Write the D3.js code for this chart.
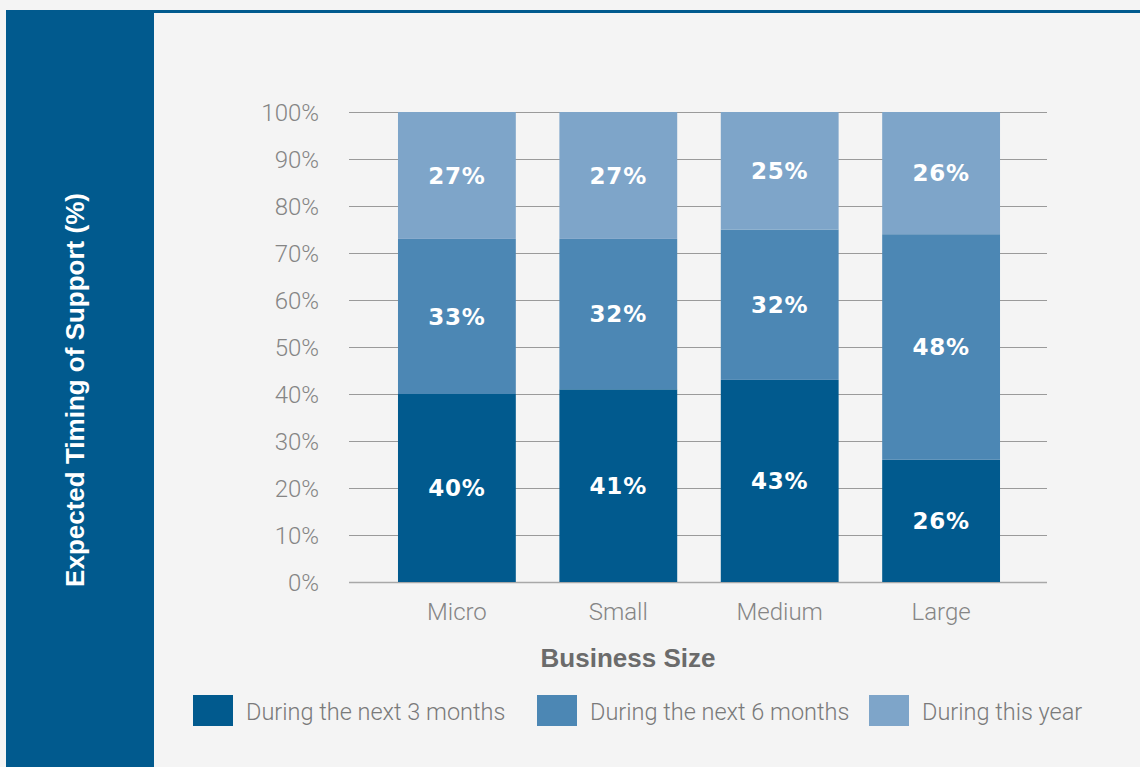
<!DOCTYPE html>
<html><head><meta charset="utf-8">
<script src="https://cdn.jsdelivr.net/npm/d3@7"></script>
<style>html,body{margin:0;padding:0;background:#f3f3f3;}svg{display:block;}</style>
</head><body>
<svg id="chart" width="1140" height="767"></svg>
<script>
const categories = ["Micro", "Small", "Medium", "Large"];
const seriesNames = ["During the next 3 months", "During the next 6 months", "During this year"];
const next3Months = [40, 41, 43, 26];
const next6Months = [33, 32, 32, 48];
const thisYear = [27, 27, 25, 26];
const yTicks = [0, 10, 20, 30, 40, 50, 60, 70, 80, 90, 100];
const colors = ["#015a8e", "#4c87b4", "#7ea5c9"];

const svg = d3.select("#chart");
const W = 1140, H = 767;
svg.append("rect").attr("width", W).attr("height", H).attr("fill", "#f4f4f4");
// left panel + top rule
svg.append("rect").attr("x", 6).attr("y", 10).attr("width", 148).attr("height", H - 10).attr("fill", "#015a8e");
svg.append("rect").attr("x", 154).attr("y", 10).attr("width", W - 154).attr("height", 3).attr("fill", "#015a8e");

const x = d3.scaleBand().domain(categories).range([377, 1021]).paddingInner(0.27).paddingOuter(0.13);
const y = d3.scaleLinear().domain([0, 100]).range([582, 112]);

const light = "Roboto, 'Liberation Sans', sans-serif";

// gridlines
svg.append("g").selectAll("line").data(yTicks).join("line")
  .attr("x1", 349).attr("x2", 1047)
  .attr("y1", d => Math.round(y(d)) + 0.5).attr("y2", d => Math.round(y(d)) + 0.5)
  .attr("stroke", d => d === 0 ? "#a8a8a8" : "#9a9a9a").attr("stroke-width", d => d === 0 ? 1.5 : 1);

// y tick labels
const yAxis = d3.axisLeft(y).tickValues(yTicks).tickFormat(d => d + "%").tickSize(0).tickPadding(0);
const ga = svg.append("g").attr("transform", "translate(319,0)").call(yAxis);
ga.select(".domain").remove();
ga.selectAll("text").attr("font-family", light).attr("font-weight", 300).attr("font-size", 24).attr("fill", "#858585").attr("dy", "0.35em");

// stacked data
const rows = categories.map((c, i) => ({cat: c, s0: next3Months[i], s1: next6Months[i], s2: thisYear[i]}));
const stack = d3.stack().keys(["s0", "s1", "s2"]);
const layers = stack(rows);

const gl = svg.append("g");
layers.forEach((layer, li) => {
  gl.selectAll(null).data(layer).join("rect")
    .attr("x", d => x(d.data.cat)).attr("width", x.bandwidth())
    .attr("y", d => y(Math.min(d[1], 100))).attr("height", d => y(d[0]) - y(Math.min(d[1], 100)))
    .attr("fill", colors[li]);
  gl.selectAll(null).data(layer).join("text")
    .attr("x", d => x(d.data.cat) + x.bandwidth() / 2)
    .attr("y", d => (y(d[0]) + y(Math.min(d[1], 100))) / 2)
    .attr("dy", "0.36em").attr("text-anchor", "middle")
    .attr("font-family", "'DejaVu Sans', sans-serif").attr("font-weight", "bold").attr("font-size", 23)
    .attr("letter-spacing", 0.8)
    .attr("fill", "#fff").text(d => (d[1] - d[0]) + "%");
});

// x labels
const xAxis = d3.axisBottom(x).tickSize(0).tickPadding(0);
const gx = svg.append("g").attr("transform", "translate(0,612)").call(xAxis);
gx.select(".domain").remove();
gx.selectAll("text").attr("font-family", light).attr("font-weight", 300).attr("font-size", 24).attr("fill", "#858585").attr("dy", "0.35em");

// axis titles
svg.append("text").attr("x", 628).attr("y", 667).attr("text-anchor", "middle")
  .attr("font-family", "'Liberation Sans', Arial, sans-serif").attr("font-weight", "bold").attr("font-size", 26)
  .attr("fill", "#6b6b6b").text("Business Size");
svg.append("text").attr("transform", "translate(84,390) rotate(-90)").attr("text-anchor", "middle")
  .attr("font-family", "'Liberation Sans', Arial, sans-serif").attr("font-weight", "bold").attr("font-size", 26)
  .attr("fill", "#fff").text("Expected Timing of Support (%)");

// legend
const legX = [193, 537, 869];
const lg = svg.append("g");
seriesNames.forEach((n, i) => {
  lg.append("rect").attr("x", legX[i]).attr("y", 695).attr("width", 40).attr("height", 31).attr("fill", colors[i]);
  lg.append("text").attr("x", legX[i] + 53).attr("y", 720)
    .attr("font-family", light).attr("font-weight", 300).attr("font-size", 23.5).attr("fill", "#7a7a7a").text(n);
});
</script>
</body></html>
